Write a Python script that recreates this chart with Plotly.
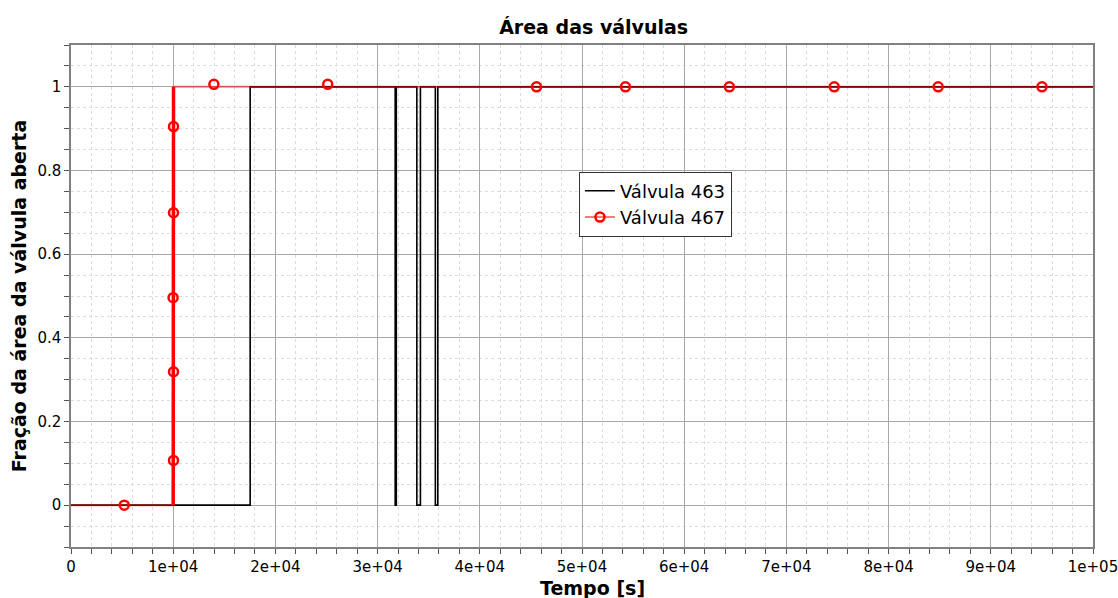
import plotly.graph_objects as go

# ---- data ----
v463_t = [0, 17530, 17530, 31720, 31720, 31830, 31830, 33840, 33840, 34190, 34190,
          35650, 35650, 35890, 35890, 100000]
v463_y = [0, 0, 1, 1, 0, 0, 1, 1, 0, 0, 1, 1, 0, 0, 1, 1]

v467_t = [0, 10000, 10030, 100000]
v467_y = [0, 0, 1, 1]

ramp467_t = [10000, 10030]
ramp467_y = [0, 1]

m467_t = [5210, 10030, 10030, 9990, 10030, 10030, 13980, 25120, 45550, 54250,
          64420, 74680, 84850, 95010]
m467_y = [0, 0.107, 0.319, 0.496, 0.699, 0.905, 1.006, 1.006, 1, 1, 1, 1, 1, 1]

x_tickvals = [0, 10000, 20000, 30000, 40000, 50000, 60000, 70000, 80000, 90000, 100000]
x_ticktext = ["0", "1e+04", "2e+04", "3e+04", "4e+04", "5e+04", "6e+04", "7e+04",
              "8e+04", "9e+04", "1e+05"]
y_tickvals = [0, 0.2, 0.4, 0.6, 0.8, 1]
y_ticktext = ["0", "0.2", "0.4", "0.6", "0.8", "1"]

FONT = "DejaVu Sans"

fig = go.Figure()
fig.add_trace(go.Scatter(x=v463_t, y=v463_y, mode="lines", name="Válvula 463",
                         line=dict(color="black", width=1.6)))
fig.add_trace(go.Scatter(x=v467_t, y=v467_y, mode="lines", showlegend=False,
                         line=dict(color="rgba(255,0,0,0.5)", width=2)))
fig.add_trace(go.Scatter(x=ramp467_t, y=ramp467_y, mode="lines", showlegend=False,
                         line=dict(color="#ff0000", width=3.5)))
fig.add_trace(go.Scatter(x=m467_t, y=m467_y, mode="markers", showlegend=False,
                         marker=dict(symbol="circle-open", size=9, color="#ff0000",
                                     line=dict(width=2.5, color="#ff0000"))))
fig.add_trace(go.Scatter(x=[None], y=[None], mode="lines+markers", name="Válvula 467",
                         line=dict(color="rgba(255,0,0,0.7)", width=1.5),
                         marker=dict(symbol="circle-open", size=9, color="#ff0000",
                                     line=dict(width=2.5, color="#ff0000"))))

fig.update_layout(
    width=1118, height=598,
    paper_bgcolor="white", plot_bgcolor="white",
    margin=dict(l=71, r=25, t=45, b=51, autoexpand=False),
    font=dict(family=FONT, color="black"),
    title=dict(text="<b>Área das válvulas</b>", x=0.531, xref="container",
               xanchor="center", y=1 - 27 / 598, yref="container", yanchor="middle",
               automargin=False,
               font=dict(family=FONT, size=19, color="black")),
    legend=dict(x=0.497, y=0.748, xanchor="left", yanchor="top",
                bgcolor="white", bordercolor="#333333", borderwidth=1,
                font=dict(family=FONT, size=18, color="black"),
                itemwidth=30, tracegroupgap=0),
    showlegend=True,
    annotations=[dict(text="<b>Tempo [s]</b>", xref="paper", yref="paper",
                      x=(592 - 71) / 1022, y=-(588 - 547) / 502,
                      xanchor="center", yanchor="middle", showarrow=False,
                      font=dict(family=FONT, size=19, color="black"))],
)

fig.update_xaxes(
    range=[0, 100000], tickvals=x_tickvals, ticktext=x_ticktext,
    automargin=False, ticklabeloverflow="allow",
    showline=True, linecolor="#808080", linewidth=1.5, mirror=True,
    ticks="outside", ticklen=5, tickcolor="#555555",
    showgrid=True, gridcolor="#a8a8a8", gridwidth=1, zeroline=False,
    tickfont=dict(family=FONT, size=15, color="black"),
    minor=dict(dtick=2000, ticks="outside", ticklen=5, tickcolor="#555555",
               showgrid=True, gridcolor="#dcdcdc", griddash="dot", gridwidth=1),
)
fig.update_yaxes(
    range=[-0.1, 1.1], tickvals=y_tickvals, ticktext=y_ticktext,
    automargin=False,
    showline=True, linecolor="#808080", linewidth=1.5, mirror=True,
    ticks="outside", ticklen=5, tickcolor="#555555",
    showgrid=True, gridcolor="#a8a8a8", gridwidth=1, zeroline=False,
    tickfont=dict(family=FONT, size=15, color="black"),
    minor=dict(dtick=0.05, tick0=0, ticks="outside", ticklen=5, tickcolor="#555555",
               showgrid=True, gridcolor="#dcdcdc", griddash="dot", gridwidth=1),
    title=dict(text="<b>Fração da área da válvula aberta</b>", standoff=6,
               font=dict(family=FONT, size=19, color="black")),
)

fig.write_html("out.html", config={"displayModeBar": False},
               post_script="document.body.style.margin='0px';document.body.style.overflow='hidden';")
